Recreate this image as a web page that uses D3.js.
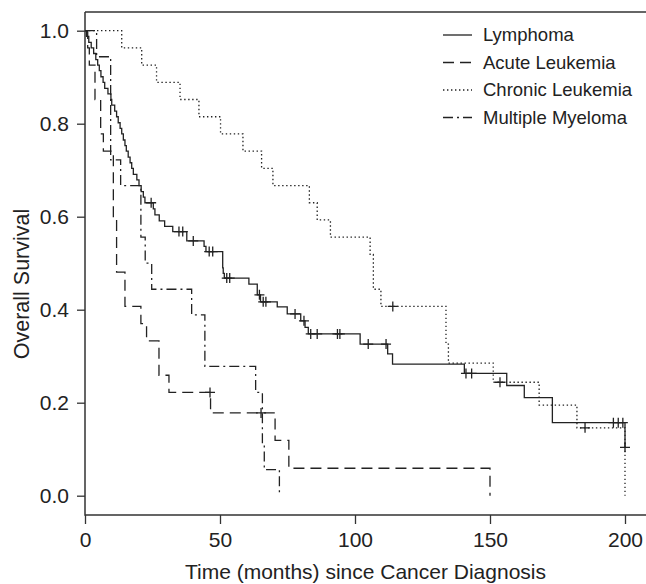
<!DOCTYPE html>
<html><head><meta charset="utf-8">
<script src="https://cdn.jsdelivr.net/npm/d3@7/dist/d3.min.js"></script>
<style>body{margin:0;background:#fff;} svg{display:block;}</style>
</head><body><svg id="chart" width="646" height="584"></svg>
<script>
// ---- data ----
const seriesNames = ["Lymphoma", "Acute Leukemia", "Chronic Leukemia", "Multiple Myeloma"];

const lymphomaTimes = [0.6,1.4,2.3,3.2,4.0,4.7,5.3,5.9,6.7,7.3,8.5,9.6,9.9,11.0,11.7,12.3,13.0,13.6,14.2,14.8,15.3,16.0,16.7,17.3,17.9,19.2,20.0,20.8,21.6,22.2,25.3,25.9,27.5,29.5,32.5,37.7,44.1,44.8,51.0,51.2,51.6,60.7,63.8,65.0,71.2,74.9,79.9,81.5,82.7,101.9,112.1,113.9,140.5,156.2,162.7,173.1,200.0];
const lymphomaSurv = [0.988,0.975,0.963,0.951,0.938,0.926,0.914,0.901,0.889,0.876,0.864,0.852,0.840,0.827,0.815,0.802,0.790,0.778,0.765,0.753,0.741,0.728,0.716,0.704,0.691,0.679,0.667,0.654,0.642,0.630,0.617,0.604,0.591,0.579,0.568,0.548,0.536,0.525,0.490,0.478,0.468,0.455,0.432,0.417,0.406,0.391,0.376,0.362,0.348,0.326,0.305,0.283,0.263,0.237,0.211,0.157,0.104];
const lymphomaCensored = [24.5,34.8,36.2,40.1,46.0,47.3,52.5,53.6,64.6,66.0,67.0,77.8,81.1,83.6,86.0,93.5,94.4,104.9,111.5,141.1,143.2,195.7,197.5,199.2,200.0];

const acuteTimes = [1.0,1.6,3.7,5.8,6.8,10.5,11.7,14.8,20.7,22.8,27.4,31.1,46.5,70.4,75.5,150.0];
const acuteSurv = [0.963,0.926,0.852,0.778,0.741,0.593,0.481,0.407,0.370,0.333,0.259,0.222,0.178,0.119,0.059,0.0];
const acuteCensored = [46.3,65.2];

const chronicTimes = [13.6,21.0,26.5,35.2,42.2,50.2,58.5,65.4,69.6,83.1,86.0,90.9,105.6,106.8,109.6,133.7,134.6,151.2,168.2,182.2,200.0];
const chronicSurv = [0.963,0.926,0.889,0.852,0.815,0.778,0.741,0.704,0.667,0.630,0.593,0.556,0.519,0.444,0.407,0.326,0.285,0.244,0.195,0.146,0.0];
const chronicCensored = [114.0,153.7,185.2];

const myelomaTimes = [4.3,9.5,13.2,20.7,22.3,24.7,39.5,44.4,63.2,65.7,66.4,72.0];
const myelomaSurv = [0.944,0.722,0.667,0.556,0.500,0.444,0.389,0.278,0.222,0.111,0.056,0.0];
const myelomaCensored = [];

const xTicks = [0, 50, 100, 150, 200];
const yTicks = [0.0, 0.2, 0.4, 0.6, 0.8, 1.0];
const xTitle = "Time (months) since Cancer Diagnosis";
const yTitle = "Overall Survival";

// ---- layout ----
const svg = d3.select("#chart");
const box = {left: 85, right: 646, top: 12, bottom: 515};
const x = d3.scaleLinear().domain([0, 200]).range([85, 625]);
const y = d3.scaleLinear().domain([0, 1]).range([495.7, 30.7]);
const ink = "#222";
const font = "'Liberation Sans', Arial, Helvetica, sans-serif";

const series = [
  {times: lymphomaTimes, surv: lymphomaSurv, cens: lymphomaCensored, dash: null, w: 1.3},
  {times: acuteTimes, surv: acuteSurv, cens: acuteCensored, dash: "11,6", w: 1.3},
  {times: chronicTimes, surv: chronicSurv, cens: chronicCensored, dash: "1.4,2.6", w: 1.3},
  {times: myelomaTimes, surv: myelomaSurv, cens: myelomaCensored, dash: "10,4,2,4", w: 1.3}
];

// frame
svg.append("path")
  .attr("d", `M${box.left},${box.top}V${box.bottom}H${box.right}`)
  .attr("fill", "none").attr("stroke", "#333").attr("stroke-width", 1.5);
svg.append("line").attr("x1", box.left).attr("x2", box.right).attr("y1", box.top).attr("y2", box.top)
  .attr("stroke", "#333").attr("stroke-width", 1.5);

// axes
const xAxis = svg.append("g").attr("transform", `translate(0,${box.bottom})`)
  .call(d3.axisBottom(x).tickValues(xTicks).tickSize(9).tickPadding(8).tickFormat(d3.format("d")));
const yAxis = svg.append("g").attr("transform", `translate(${box.left},0)`)
  .call(d3.axisLeft(y).tickValues(yTicks).tickSize(8).tickPadding(8).tickFormat(d3.format(".1f")));
[xAxis, yAxis].forEach(g => {
  g.select(".domain").remove();
  g.selectAll(".tick line").attr("stroke", "#333").attr("stroke-width", 1.3);
  g.selectAll(".tick text").attr("fill", ink).style("font-family", font).style("font-size", "21px");
});

svg.append("text").attr("x", 365.5).attr("y", 579)
  .attr("text-anchor", "middle").attr("fill", ink)
  .style("font-family", font).style("font-size", "21px").text(xTitle);
svg.append("text").attr("transform", `translate(29,284) rotate(-90)`)
  .attr("text-anchor", "middle").attr("fill", ink)
  .style("font-family", font).style("font-size", "21.5px").text(yTitle);

// curves
const line = d3.line().x(d => x(d[0])).y(d => y(d[1])).curve(d3.curveStepAfter);
function survAt(s, t) {
  let v = 1;
  s.times.forEach((tt, i) => { if (tt <= t) v = s.surv[i]; });
  return v;
}
series.forEach(s => {
  const pts = [[0, 1]];
  s.times.forEach((t, i) => pts.push([t, s.surv[i]]));
  const tEnd = Math.max(d3.max(s.times), s.cens.length ? d3.max(s.cens) : 0);
  pts.push([tEnd, s.surv[s.surv.length - 1]]);
  svg.append("path").attr("d", line(pts)).attr("fill", "none")
    .attr("stroke", ink).attr("stroke-width", s.w)
    .attr("stroke-dasharray", s.dash);
  s.cens.forEach(t => {
    const cx = x(t), cy = y(survAt(s, t));
    svg.append("path").attr("d", `M${cx - 5},${cy}H${cx + 5}M${cx},${cy - 5}V${cy + 5}`)
      .attr("stroke", ink).attr("stroke-width", 1.3);
  });
});

// legend
const leg = svg.append("g");
series.forEach((s, i) => {
  const ly = 35 + i * 27.5;
  leg.append("line").attr("x1", 443).attr("x2", 472).attr("y1", ly).attr("y2", ly)
    .attr("stroke", ink).attr("stroke-width", 1.3).attr("stroke-dasharray", s.dash);
  leg.append("text").attr("x", 483).attr("y", ly).attr("dy", "0.35em")
    .attr("fill", ink).style("font-family", font).style("font-size", "18.5px").text(seriesNames[i]);
});
</script>
</body></html>
